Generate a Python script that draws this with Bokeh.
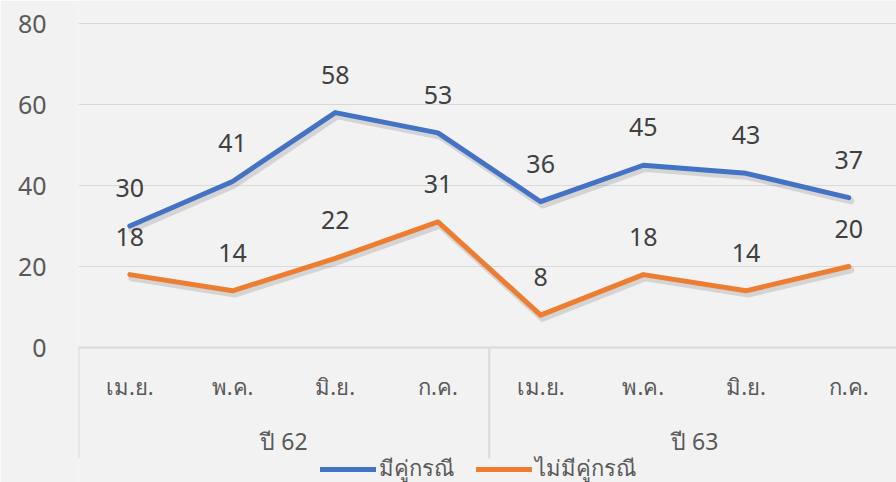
from bokeh.plotting import figure
from bokeh.models import ColumnDataSource, FixedTicker, Legend, LegendItem
from bokeh.transform import dodge
from bokeh.core.properties import value
from bokeh.embed import file_html
from bokeh.resources import INLINE

# ---- data ----
years = ["ปี 62", "ปี 63"]
months = ["เม.ย.", "พ.ค.", "มิ.ย.", "ก.ค.", "เม.ย.", "พ.ค.", "มิ.ย.", "ก.ค."]
months_per_year = [4, 4]
with_party = [30, 41, 58, 53, 36, 45, 43, 37]
without_party = [18, 14, 22, 31, 8, 18, 14, 20]
series_names = ["มีคู่กรณี", "ไม่มีคู่กรณี"]
y_ticks = [0, 20, 40, 60, 80]

BLUE = "#4472C4"
ORANGE = "#ED7D31"
BG = "#F2F2F2"
GRID = "#D9D9D9"
FONT = "Noto Sans"

xs = [i + 0.5 for i in range(len(months))]

p = figure(width=896, height=482, output_backend="svg", toolbar_location=None,
           x_range=(0, 7.965), y_range=(-33.33, 85.68), x_axis_type=None,
           background_fill_color=BG, border_fill_color=BG,
           min_border_left=78, min_border_right=0, min_border_top=0, min_border_bottom=0)
p.outline_line_color = None

# y axis
p.yaxis.ticker = FixedTicker(ticks=y_ticks)
p.yaxis.axis_line_color = None
p.yaxis.major_tick_line_color = None
p.yaxis.minor_tick_line_color = None
p.yaxis.major_tick_out = 0
p.yaxis.major_label_standoff = 32
p.yaxis.major_label_text_font = FONT
p.yaxis.major_label_text_font_size = "25px"
p.yaxis.major_label_text_color = "#595959"
p.ygrid.ticker = FixedTicker(ticks=[t for t in y_ticks if t > 0])
p.ygrid.grid_line_color = GRID
p.ygrid.grid_line_width = 1
p.xgrid.visible = False

# category axis line and separators
n = len(months)
bounds = [0]
for c in months_per_year:
    bounds.append(bounds[-1] + c)
p.segment(x0=[0], y0=[0], x1=[n], y1=[0], line_color=GRID, line_width=2)
p.segment(x0=bounds, y0=[0] * len(bounds), x1=bounds, y1=[-27.4] * len(bounds),
          line_color=GRID, line_width=2)

# category labels
msrc = ColumnDataSource(dict(x=xs, y=[-9.4] * n, t=months))
p.text(x="x", y="y", text="t", source=msrc, text_align="center", text_baseline="middle",
       text_font=value(FONT), text_font_size="22px", text_color="#595959")
ycent = [(bounds[i] + bounds[i + 1]) / 2 for i in range(len(years))]
ysrc = ColumnDataSource(dict(x=ycent, y=[-23.0] * len(years), t=years))
p.text(x="x", y="y", text="t", source=ysrc, text_align="center", text_baseline="middle",
       text_font=value(FONT), text_font_size="23px", text_color="#595959")

# series
src = ColumnDataSource(dict(x=xs, a=with_party, b=without_party,
                            la=[str(v) for v in with_party], lb=[str(v) for v in without_party]))
renderers = []
for col, color in (("a", BLUE), ("b", ORANGE)):
    p.line(x=dodge("x", 0.02, range=p.x_range), y=dodge(col, -0.8, range=p.y_range), source=src,
           line_color="#000000", line_alpha=0.12, line_width=7, line_join="round", line_cap="round")
    r = p.line(x="x", y=col, source=src, line_color=color, line_width=5,
               line_join="round", line_cap="round")
    renderers.append(r)

for col in ("la", "lb"):
    ycol = "a" if col == "la" else "b"
    p.text(x="x", y=ycol, text=col, source=src, text_align="center", text_baseline="middle",
           y_offset=-38, text_font=value(FONT), text_font_size="25px", text_color="#404040")

legend = Legend(items=[LegendItem(label=series_names[0], renderers=[renderers[0]]),
                       LegendItem(label=series_names[1], renderers=[renderers[1]])],
                orientation="horizontal", location=(242, -4),
                background_fill_alpha=0, border_line_color=None,
                glyph_width=56, glyph_height=20, label_height=20, label_standoff=3,
                spacing=22, padding=0, margin=0,
                label_text_font=FONT, label_text_font_size="22px", label_text_color="#595959")
p.add_layout(legend, "center")

open("out.html", "w").write(file_html(p, INLINE))
